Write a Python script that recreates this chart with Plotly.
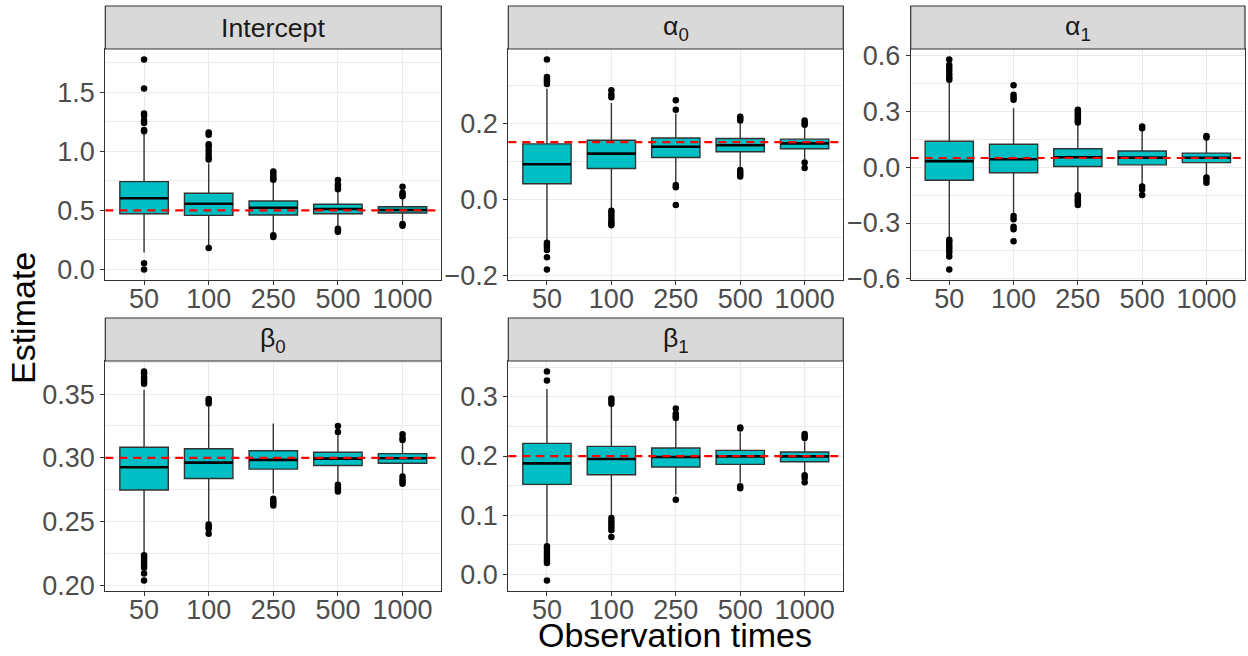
import plotly.graph_objects as go

# Sample sizes on the x axis
N_LABELS = ["50", "100", "250", "500", "1000"]

# Facet titles and true parameter values (red dashed reference lines)
PANEL_TITLES = ["Intercept", "α<sub>0</sub>", "α<sub>1</sub>", "β<sub>0</sub>", "β<sub>1</sub>"]
TRUE_VALUES = [0.5, 0.15, 0.05, 0.3, 0.2]

# ---- Intercept ----
INTERCEPT_Q1 = [0.472, 0.458, 0.461, 0.472, 0.478]
INTERCEPT_MED = [0.603, 0.557, 0.523, 0.512, 0.503]
INTERCEPT_Q3 = [0.744, 0.645, 0.580, 0.552, 0.531]
INTERCEPT_LO = [0.144, 0.20, 0.31, 0.355, 0.405]
INTERCEPT_HI = [1.15, 0.90, 0.75, 0.67, 0.61]
INTERCEPT_OUT = [
    [1.777, 1.531, 1.32, 1.30, 1.26, 1.24, 1.18, 1.17, 0.053, 0.0],
    [1.16, 1.14, 1.06, 1.04, 1.01, 0.98, 0.95, 0.93, 0.181],
    [0.83, 0.81, 0.79, 0.77, 0.76, 0.29, 0.275],
    [0.758, 0.72, 0.70, 0.68, 0.345, 0.33, 0.32],
    [0.70, 0.65, 0.63, 0.62, 0.385, 0.37],
]

# ---- alpha_0 ----
ALPHA0_Q1 = [0.041, 0.081, 0.110, 0.125, 0.133]
ALPHA0_MED = [0.092, 0.120, 0.138, 0.142, 0.147]
ALPHA0_Q3 = [0.1455, 0.155, 0.161, 0.1596, 0.158]
ALPHA0_LO = [-0.11, -0.025, 0.045, 0.085, 0.105]
ALPHA0_HI = [0.29, 0.253, 0.225, 0.20, 0.19]
ALPHA0_OUT = [
    [0.367, 0.321, 0.315, 0.31, 0.303, -0.114, -0.12, -0.125, -0.133, -0.152, -0.184],
    [0.286, 0.275, 0.268, -0.03, -0.035, -0.042, -0.05, -0.058, -0.063, -0.068],
    [0.26, 0.235, 0.038, 0.032, -0.015],
    [0.217, 0.212, 0.207, 0.077, 0.072, 0.066, 0.06],
    [0.207, 0.201, 0.196, 0.097, 0.082],
]

# ---- alpha_1 ----
ALPHA1_Q1 = [-0.070, -0.029, 0.004, 0.013, 0.025]
ALPHA1_MED = [0.033, 0.043, 0.054, 0.052, 0.051]
ALPHA1_Q3 = [0.140, 0.124, 0.100, 0.088, 0.076]
ALPHA1_LO = [-0.38, -0.25, -0.14, -0.09, -0.045]
ALPHA1_HI = [0.46, 0.318, 0.23, 0.20, 0.15]
ALPHA1_OUT = [
    [0.58, 0.55, 0.535, 0.52, 0.50, 0.485, 0.471,
     -0.39, -0.40, -0.415, -0.43, -0.445, -0.46, -0.48, -0.55],
    [0.442, 0.39, 0.375, 0.363, -0.262, -0.28, -0.32, -0.334, -0.398],
    [0.309, 0.30, 0.29, 0.28, 0.27, 0.26, 0.25, 0.241,
     -0.15, -0.16, -0.17, -0.18, -0.19, -0.203],
    [0.219, 0.21, -0.104, -0.12, -0.149],
    [0.169, 0.16, -0.055, -0.065, -0.083],
]

# ---- beta_0 ----
BETA0_Q1 = [0.2748, 0.2838, 0.2912, 0.2940, 0.2958]
BETA0_MED = [0.2927, 0.2963, 0.2984, 0.2994, 0.2997]
BETA0_Q3 = [0.3083, 0.3072, 0.3056, 0.3044, 0.3033]
BETA0_LO = [0.2258, 0.25, 0.272, 0.28, 0.287]
BETA0_HI = [0.3534, 0.34, 0.327, 0.318, 0.312]
BETA0_OUT = [
    [0.3677, 0.366, 0.3635, 0.362, 0.3598, 0.358,
     0.2237, 0.222, 0.220, 0.218, 0.216, 0.214, 0.2094, 0.2039],
    [0.3461, 0.3445, 0.3425, 0.2478, 0.246, 0.2445, 0.2406],
    [0.268, 0.266, 0.2645, 0.2626],
    [0.3249, 0.3202, 0.2789, 0.277, 0.2755, 0.2737],
    [0.3186, 0.3155, 0.314, 0.2854, 0.283, 0.2815, 0.2797],
]

# ---- beta_1 ----
BETA1_Q1 = [0.1522, 0.1685, 0.1815, 0.1859, 0.1904]
BETA1_MED = [0.1876, 0.195, 0.1984, 0.1994, 0.1994]
BETA1_Q3 = [0.2213, 0.2163, 0.2135, 0.2095, 0.2068]
BETA1_LO = [0.05, 0.10, 0.135, 0.155, 0.17]
BETA1_HI = [0.313, 0.285, 0.26, 0.24, 0.225]
BETA1_OUT = [
    [0.3427, 0.3275, 0.0477, 0.043, 0.038, 0.033, 0.028, 0.024, 0.0197, -0.0101],
    [0.297, 0.293, 0.288, 0.0955, 0.09, 0.085, 0.08, 0.0747, 0.0635],
    [0.28, 0.2713, 0.267, 0.264, 0.1264],
    [0.2483, 0.2465, 0.1489, 0.1455],
    [0.2371, 0.2335, 0.2304, 0.1674, 0.163, 0.1556],
]

# Y tick spacing / format per facet
Y_DTICK = [0.5, 0.2, 0.3, 0.05, 0.1]
Y_FORMAT = [".1f", ".1f", ".1f", ".2f", ".1f"]

panels = [
    (INTERCEPT_Q1, INTERCEPT_MED, INTERCEPT_Q3, INTERCEPT_LO, INTERCEPT_HI, INTERCEPT_OUT),
    (ALPHA0_Q1, ALPHA0_MED, ALPHA0_Q3, ALPHA0_LO, ALPHA0_HI, ALPHA0_OUT),
    (ALPHA1_Q1, ALPHA1_MED, ALPHA1_Q3, ALPHA1_LO, ALPHA1_HI, ALPHA1_OUT),
    (BETA0_Q1, BETA0_MED, BETA0_Q3, BETA0_LO, BETA0_HI, BETA0_OUT),
    (BETA1_Q1, BETA1_MED, BETA1_Q3, BETA1_LO, BETA1_HI, BETA1_OUT),
]

W, H = 1248, 656
FONT = "Liberation Sans, Arial, sans-serif"
BOX_FILL = "#00BFC4"
DARK = "#333333"
GRID = "#EBEBEB"
TICK_TXT = "#4D4D4D"

# facet placement in pixels: (left, right) columns and (top, bottom) rows
COLS = [(105.3, 441.3), (508.3, 843.3), (910.7, 1245.0)]
ROWS = [(49.0, 280.0), (361.0, 591.0)]
STRIP_H = 43.0

BOX_W = 0.75
positions = list(range(1, len(N_LABELS) + 1))

fig = go.Figure()
layout_axes = {}
shapes = []
annotations = []

for k, (q1, med, q3, lo, hi, outs) in enumerate(panels):
    row, col = divmod(k, 3)
    idx = "" if k == 0 else str(k + 1)
    xa, ya = "x" + idx, "y" + idx
    xl, xr = COLS[col]
    yt, yb = ROWS[row]
    xdom = [xl / W, xr / W]
    ydom = [1 - yb / H, 1 - yt / H]

    # boxes (precomputed stats)
    fig.add_trace(go.Box(
        x=positions, q1=q1, median=med, q3=q3, lowerfence=lo, upperfence=hi,
        width=BOX_W, whiskerwidth=0, boxpoints=False,
        fillcolor=BOX_FILL, line=dict(color=DARK, width=1.4),
        xaxis=xa, yaxis=ya, showlegend=False, hoverinfo="skip",
    ))

    # outliers
    ox, oy = [], []
    for p, vals in zip(positions, outs):
        ox += [p] * len(vals)
        oy += vals
    fig.add_trace(go.Scatter(
        x=ox, y=oy, mode="markers",
        marker=dict(color="black", size=6.5, line=dict(width=0)),
        xaxis=xa, yaxis=ya, showlegend=False, hoverinfo="skip",
    ))

    # thick median bars
    mx, my = [], []
    for p, m in zip(positions, med):
        mx += [p - BOX_W / 2, p + BOX_W / 2, None]
        my += [m, m, None]
    fig.add_trace(go.Scatter(
        x=mx, y=my, mode="lines", line=dict(color="black", width=2.6),
        xaxis=xa, yaxis=ya, showlegend=False, hoverinfo="skip",
    ))

    # y range: data extent + 5% padding
    allv = lo + hi + [v for vals in outs for v in vals]
    vmin, vmax = min(allv), max(allv)
    pad = 0.05 * (vmax - vmin)

    common = dict(
        showline=True, mirror=True, linecolor=DARK, linewidth=1.2,
        showgrid=True, gridcolor=GRID, gridwidth=1.1, zeroline=False,
        ticks="outside", ticklen=4, tickwidth=1.1, tickcolor=DARK,
        tickfont=dict(family=FONT, size=27, color=TICK_TXT),
        automargin=False,
    )
    layout_axes["xaxis" + idx] = dict(
        common, domain=xdom, anchor=ya, range=[0.4, len(N_LABELS) + 0.6],
        tickmode="array", tickvals=positions, ticktext=N_LABELS,
        ticklabelstandoff=-10,
    )
    layout_axes["yaxis" + idx] = dict(
        common, domain=ydom, anchor=xa, range=[vmin - pad, vmax + pad],
        tick0=0, dtick=Y_DTICK[k], tickformat=Y_FORMAT[k],
        minor=dict(dtick=Y_DTICK[k] / 2, tick0=0, showgrid=True,
                   gridcolor=GRID, gridwidth=0.55, ticks=""),
    )

    # strip
    s_top = 1 - (yt - STRIP_H) / H
    shapes.append(dict(
        type="rect", xref="paper", yref="paper",
        x0=xdom[0], x1=xdom[1], y0=ydom[1], y1=s_top,
        fillcolor="#D9D9D9", line=dict(color=DARK, width=1.2), layer="above",
    ))
    annotations.append(dict(
        text=PANEL_TITLES[k], xref="paper", yref="paper",
        x=(xdom[0] + xdom[1]) / 2, y=(ydom[1] + s_top) / 2,
        xanchor="center", yanchor="middle", showarrow=False,
        font=dict(family=FONT, size=26.7, color="#1A1A1A"),
    ))

    # true value reference line
    shapes.append(dict(
        type="line", xref=xa + " domain", yref=ya,
        x0=0, x1=1, y0=TRUE_VALUES[k], y1=TRUE_VALUES[k],
        line=dict(color="#FF0000", width=2.2, dash="8px,6px"), layer="above",
    ))

# axis titles
annotations.append(dict(
    text="Observation times", xref="paper", yref="paper",
    x=(105.3 + 1245) / 2 / W, y=0, xanchor="center", yanchor="bottom",
    showarrow=False, font=dict(family=FONT, size=34, color="black"),
))
annotations.append(dict(
    text="Estimate", xref="paper", yref="paper",
    x=23 / W, y=1 - 318 / H, xanchor="center", yanchor="middle", textangle=-90,
    showarrow=False, font=dict(family=FONT, size=34, color="black"),
))

fig.update_layout(
    width=W, height=H, margin=dict(l=0, r=0, t=0, b=0, autoexpand=False),
    paper_bgcolor="white", plot_bgcolor="white",
    shapes=shapes, annotations=annotations, showlegend=False,
    **layout_axes,
)

fig.write_html("out.html")
